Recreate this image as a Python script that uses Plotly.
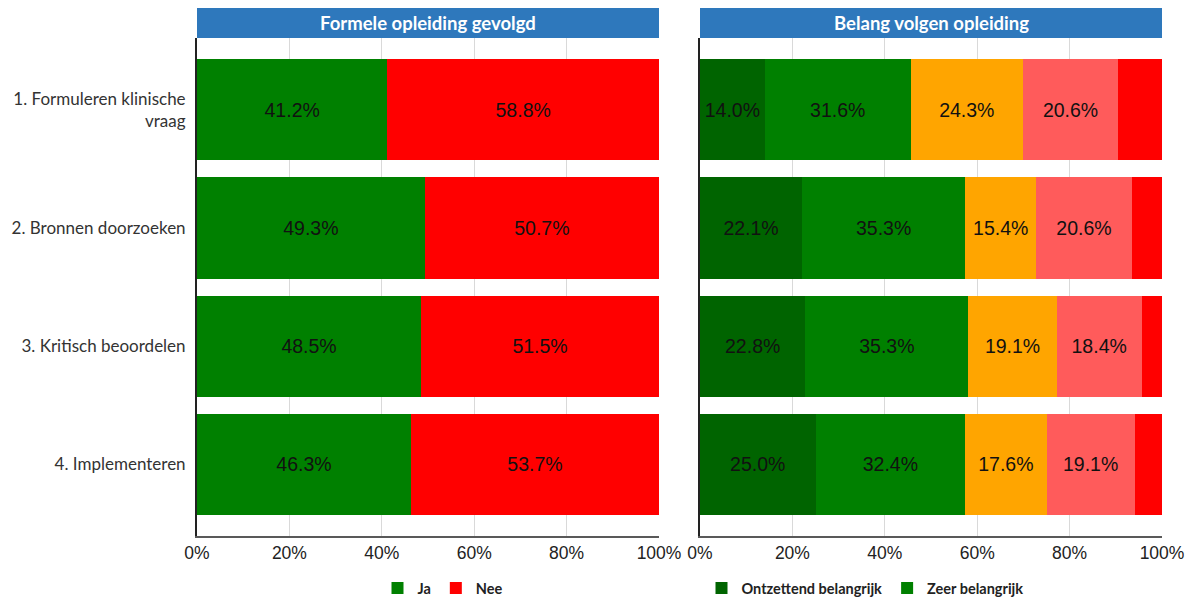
import plotly.graph_objects as go

categories = ["1. Formuleren klinische<br>vraag", "2. Bronnen doorzoeken", "3. Kritisch beoordelen", "4. Implementeren"]

ja = [41.2, 49.3, 48.5, 46.3]
nee = [58.8, 50.7, 51.5, 53.7]

ontzettend = [14.0, 22.1, 22.8, 25.0]
zeer = [31.6, 35.3, 35.3, 32.4]
belangrijk = [24.3, 15.4, 19.1, 17.6]
enigszins = [20.6, 20.6, 18.4, 19.1]
niet = [9.5, 6.6, 4.4, 5.9]

left_title = "Formele opleiding gevolgd"
right_title = "Belang volgen opleiding"
xticks = [0, 20, 40, 60, 80, 100]
xticklabels = ["0%", "20%", "40%", "60%", "80%", "100%"]

W, H = 1194, 604
ml, mr, mt, mb = 197, 32, 38, 68
pw = W - ml - mr
ph = H - mt - mb

fig = go.Figure()

lab_font = dict(family="Liberation Sans, Arial", size=19.5, color="#111111")

def add(vals, name, color, xa, ya, legend, show, label=True):
    fig.add_trace(go.Bar(
        y=categories, x=vals, orientation="h", name=name,
        marker=dict(color=color, line=dict(width=0)),
        xaxis=xa, yaxis=ya, legend=legend, showlegend=show,
        texttemplate="%{x:.1f}%" if label else None,
        textposition="inside" if label else "none",
        insidetextanchor="middle", textangle=0,
        insidetextfont=lab_font, hoverinfo="x+name",
    ))

add(ja, "Ja", "#008000", "x", "y", "legend", True)
add(nee, "Nee", "#FF0000", "x", "y", "legend", True)
add(ontzettend, "Ontzettend belangrijk", "#006400", "x2", "y2", "legend2", True)
add(zeer, "Zeer belangrijk", "#008000", "x2", "y2", "legend2", True)
add(belangrijk, "Belangrijk", "#FFA500", "x2", "y2", "legend2", False)
add(enigszins, "Enigszins belangrijk", "#FF5B5B", "x2", "y2", "legend2", False)
add(niet, "Niet belangrijk", "#FF0000", "x2", "y2", "legend2", False, label=False)

d1 = (659 - ml) / pw
d2 = (700 - ml) / pw

xcommon = dict(range=[0, 100], tickvals=xticks, ticktext=xticklabels,
               showgrid=True, gridcolor="#D9D9D9", gridwidth=1,
               showline=True, linecolor="#595959", linewidth=1.5,
               ticks="", zeroline=False,
               tickfont=dict(family="Liberation Sans, Arial", size=17.5, color="#222222"))
ycommon = dict(range=[3.61, -0.61], showgrid=False, zeroline=False,
               showline=True, linecolor="#222222", linewidth=2, ticks="")

legfont = dict(family="Lato, Open Sans", size=14.5, color="#222222", weight="bold")

fig.update_layout(
    width=W, height=H,
    margin=dict(l=ml, r=mr, t=mt, b=mb, autoexpand=False),
    paper_bgcolor="white", plot_bgcolor="white",
    barmode="stack", bargap=0.144,
    xaxis=dict(domain=[0, d1], anchor="y", **xcommon),
    xaxis2=dict(domain=[d2, 1], anchor="y2", **xcommon),
    yaxis=dict(anchor="x", tickmode="array", tickvals=categories, ticktext=categories,
               ticklabelstandoff=6,
               tickfont=dict(family="Lato, Open Sans", size=17, color="#333333"), **ycommon),
    yaxis2=dict(anchor="x2", showticklabels=False, **ycommon),
    legend=dict(orientation="h", x=(443 - ml) / pw, xanchor="center", y=-52 / ph, yanchor="middle",
                font=legfont, traceorder="normal",
                itemwidth=30, tracegroupgap=0, bgcolor="rgba(0,0,0,0)"),
    legend2=dict(orientation="h", x=(865 - ml) / pw, xanchor="center", y=-52 / ph, yanchor="middle",
                 font=legfont, traceorder="normal",
                 itemwidth=30, tracegroupgap=0, bgcolor="rgba(0,0,0,0)"),
)

hdr_h = 30 / ph
for (x0, x1, title) in [(0, d1, left_title), (d2, 1, right_title)]:
    fig.add_shape(type="rect", xref="paper", yref="paper", x0=x0, x1=x1, y0=1, y1=1 + hdr_h,
                  fillcolor="#2E78BC", line=dict(width=0), layer="above")
    fig.add_annotation(xref="paper", yref="paper", x=(x0 + x1) / 2, y=1 + hdr_h / 2,
                       text=title, showarrow=False, xanchor="center", yanchor="middle",
                       font=dict(family="Lato, Open Sans", size=18.5, color="white", weight="bold"))

fig.write_html("out.html", config={"displayModeBar": False},
               post_script="document.body.style.margin='0';document.body.style.overflow='hidden';")
